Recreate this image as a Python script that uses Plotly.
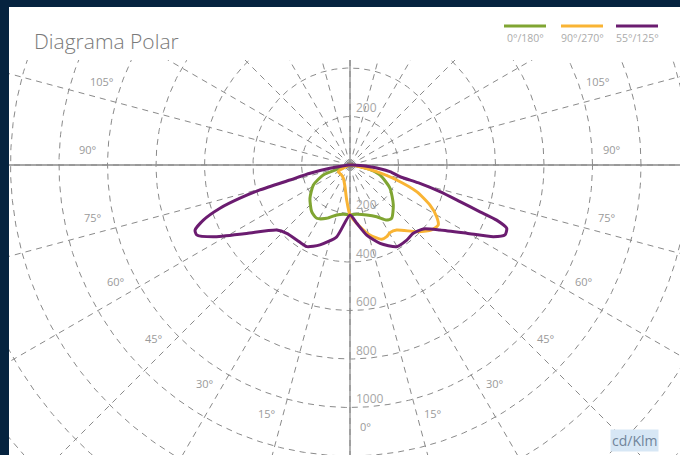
import numpy as np
import plotly.graph_objects as go

# ---------------- data ----------------
# signed gamma angle in degrees (negative = left half-plane, 0 = nadir), intensity in cd/klm
green_angle = [-90, -71.7, -69.5, -61.4, -50.2, -39.4, -32.0, -23.6, -14.9, -7.7, 0,
               7.7, 18.5, 27.3, 33.7, 38.0, 47.3, 59.8, 71.6, 78.8, 90]
green_value = [0, 43, 118, 172, 215, 249, 259, 240, 213, 205, 206,
               205, 217, 240, 273, 279, 243, 191, 130, 70, 0]

orange_angle = [-90, -60.2, -39.7, -26.7, -13.0, -5.4, 0, 9.2, 15.9, 23.1, 27.1, 30.6,
                35.7, 45.0, 51.5, 55.8, 59.2, 63.4, 68.2, 72.2, 75.9, 80.4, 90]
orange_value = [0, 56, 54, 61, 92, 145, 206, 258, 300, 333, 332, 324,
                330, 389, 430, 440, 416, 369, 296, 202, 113, 42, 0]

purple_angle = [-90, -80.6, -78.3, -76.0, -74.5, -73.2, -71.6, -69.4, -67.2, -65.5, -62.3,
                -56.5, -48.4, -42.8, -35.4, -27.9, -20.6, -10.5, 0, 6.6, 13.4, 21.0, 29.7,
                37.1, 42.8, 48.9, 54.2, 59.7, 63.4, 65.7, 68.0, 69.4, 70.2, 71.6, 73.5,
                75.3, 76.8, 80.5, 85.1, 90]
purple_value = [0, 84, 168, 255, 385, 474, 565, 646, 693, 695, 637,
                511, 404, 384, 379, 381, 352, 301, 206, 242, 297, 346, 388,
                388, 384, 401, 458, 558, 661, 701, 697, 646, 570, 478, 387,
                298, 212, 167, 83, 0]

series_names = ["0°/180°", "90°/270°", "55°/125°"]
series_colors = ["#80a532", "#f9b434", "#6b1c70"]
radial_ticks = [200, 400, 600, 800, 1000]
angle_ticks = [0, 15, 30, 45, 60, 75, 90, 105]
unit_label = "cd/Klm"
title_text = "Diagrama Polar"

# ---------------- layout geometry ----------------
W, H = 680, 455
PL, PT = 9, 60          # plot area left / top (px)
CX, CY = 350, 165       # pole position (px)
K = 0.2425              # px per cd/klm

def to_xy(ang, val):
    a = np.radians(np.asarray(ang, float))
    v = np.asarray(val, float)
    return v * np.sin(a), -v * np.cos(a)

def px(x):
    return (x - PL) / (W - PL)

def py(y):
    return (H - y) / (H - PT)

fig = go.Figure()

# grid circles
gx, gy = [], []
t = np.linspace(0, 2 * np.pi, 721)
for r in range(200, 2201, 200):
    gx += list(r * np.cos(t)) + [None]
    gy += list(r * np.sin(t)) + [None]
# grid rays every 15 deg
for d in range(0, 360, 15):
    a = np.radians(d)
    gx += [0, 2400 * np.sin(a), None]
    gy += [0, -2400 * np.cos(a), None]
fig.add_trace(go.Scatter(x=gx, y=gy, mode="lines", hoverinfo="skip", showlegend=False,
                         line=dict(color="#8a8a8a", width=1, dash="6px,5px")))

# solid axes through the pole
fig.add_trace(go.Scatter(x=[-2400, 2400, None, 0, 0], y=[0, 0, None, -2400, 2400],
                         mode="lines", hoverinfo="skip", showlegend=False,
                         line=dict(color="#8a8a8a", width=1.3)))

# data curves
for name, col, ang, val in zip(series_names, series_colors,
                               [green_angle, orange_angle, purple_angle],
                               [green_value, orange_value, purple_value]):
    x, y = to_xy(ang, val)
    fig.add_trace(go.Scatter(x=x, y=y, mode="lines", name=name, showlegend=False,
                             line=dict(color=col, width=3, shape="spline", smoothing=0.6)))

ann = []
# radial tick labels (downward direction) and the upper 200
for r in radial_ticks:
    ann.append(dict(x=0, y=-r, xref="x", yref="y", text=str(r), showarrow=False,
                    xanchor="left", yanchor="middle", xshift=4, yshift=9,
                    font=dict(size=12, color="#a6a6a6", family="Open Sans")))
ann.append(dict(x=0, y=radial_ticks[0], xref="x", yref="y", text=str(radial_ticks[0]),
                showarrow=False, xanchor="left", yanchor="middle", xshift=4, yshift=9,
                font=dict(size=12, color="#a6a6a6", family="Open Sans")))

# angle labels
RL = 262 / K
for a in angle_ticks:
    sides = [1] if a == 0 else [1, -1]
    for s in sides:
        aa = np.radians(a + 3.5)
        ann.append(dict(x=s * RL * np.sin(aa), y=-RL * np.cos(aa), xref="x", yref="y",
                        text=f"{a}°", showarrow=False, xanchor="center", yanchor="middle",
                        font=dict(size=11, color="#9a9a9a", family="Open Sans")))

# title
ann.append(dict(x=px(32), y=py(41), xref="paper", yref="paper", text=title_text,
                showarrow=False, xanchor="left", yanchor="middle",
                font=dict(size=21, color="#7a7a7a", family="Open Sans", weight=300)))

# custom legend (swatch above text)
shapes = []
leg_centers = [525, 582, 637]
for name, col, cx in zip(series_names, series_colors, leg_centers):
    shapes.append(dict(type="line", xref="paper", yref="paper",
                       x0=px(cx - 21), x1=px(cx + 21), y0=py(26), y1=py(26),
                       line=dict(color=col, width=3)))
    ann.append(dict(x=px(cx), y=py(38), xref="paper", yref="paper", text=name,
                    showarrow=False, xanchor="center", yanchor="middle",
                    font=dict(size=10.5, color="#ababab", family="Open Sans")))

# unit label
ann.append(dict(x=px(634), y=py(440), xref="paper", yref="paper", text=unit_label,
                showarrow=False, xanchor="center", yanchor="middle",
                bgcolor="#d7e7f5", borderpad=1,
                font=dict(size=14, color="#70849a", family="Open Sans")))

# navy frame strips
shapes.append(dict(type="rect", xref="paper", yref="paper", x0=px(0), x1=px(PL),
                   y0=py(H), y1=py(0), fillcolor="#05233f", line=dict(width=0), layer="above"))
shapes.append(dict(type="rect", xref="paper", yref="paper", x0=px(0), x1=px(W),
                   y0=py(7), y1=py(0), fillcolor="#05233f", line=dict(width=0), layer="above"))

fig.update_layout(
    width=W, height=H,
    margin=dict(l=PL, r=0, t=PT, b=0, pad=0),
    paper_bgcolor="white", plot_bgcolor="white",
    xaxis=dict(range=[(PL - CX) / K, (W - CX) / K], visible=False, fixedrange=True),
    yaxis=dict(range=[(CY - H) / K, (CY - PT) / K], visible=False, fixedrange=True),
    annotations=ann, shapes=shapes, showlegend=False,
)

fig.write_html("out.html", config={"displayModeBar": False},
               post_script="document.body.style.margin='0';document.body.style.overflow='hidden';")
